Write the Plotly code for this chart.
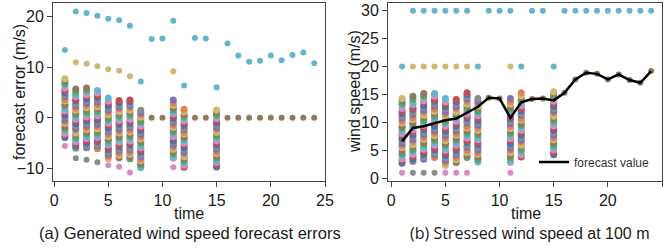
import plotly.graph_objects as go

# ---------------- data ----------------
PALETTE = ['#4C72B0', '#DD8452', '#55A868', '#C44E52', '#8172B3',
           '#937860', '#DA8BC3', '#8C8C8C', '#CCB974', '#64B5CD']

time = list(range(1, 25))
forecast = [6.6, 9.0, 9.3, 9.8, 10.4, 10.7, 11.8, 12.8, 14.4, 14.3, 10.8, 13.6,
            14.2, 14.3, 13.95, 15.3, 17.7, 18.9, 18.7, 17.7, 18.6, 17.6, 17.1, 19.2]

# stressed wind speed samples (m/s) at the times that carry a spread of scenarios
stripe_t1 = [2.7, 3.2, 3.5, 4.1, 4.4, 4.9, 5.5, 5.8, 6.2, 6.8, 7.1, 7.7, 8.0, 8.4, 9.0,
             9.3, 9.9, 10.2, 10.8, 11.1, 11.6, 12.0, 12.5, 13.1, 13.4, 13.9, 14.3]
stripe_t2 = [3.0, 3.4, 3.9, 4.3, 4.8, 5.1, 5.7, 6.0, 6.6, 6.9, 7.4, 7.8, 8.3, 8.7, 9.1,
             9.6, 10.0, 10.5, 10.9, 11.4, 11.8, 12.3, 12.6, 13.2, 13.5, 14.1, 14.7]
stripe_t3 = [3.4, 3.8, 4.3, 4.7, 5.2, 5.5, 6.1, 6.4, 7.0, 7.3, 7.8, 8.2, 8.7, 9.1, 9.5,
             10.0, 10.4, 10.9, 11.3, 11.8, 12.2, 12.7, 13.0, 13.6, 13.9, 14.5, 14.8, 15.2]
stripe_t4 = [3.7, 4.2, 4.5, 5.1, 5.4, 5.9, 6.3, 6.8, 7.2, 7.6, 8.1, 8.5, 9.0, 9.3, 9.9,
             10.2, 10.7, 11.1, 11.6, 12.0, 12.4, 12.9, 13.3, 13.8, 14.1, 14.7, 15.2]
stripe_t5 = [2.3, 2.8, 3.2, 3.6, 4.1, 4.5, 5.0, 5.3, 5.9, 6.2, 6.7, 7.1, 7.6, 8.0, 8.4,
             8.9, 9.3, 9.8, 10.1, 10.7, 11.0, 11.5, 11.9, 12.4, 12.8, 13.3, 13.7, 14.3]
stripe_t6 = [2.8, 3.3, 3.7, 4.2, 4.5, 5.0, 5.4, 5.9, 6.3, 6.8, 7.1, 7.7, 8.0, 8.5, 8.9,
             9.4, 9.8, 10.2, 10.7, 11.1, 11.6, 11.9, 12.5, 12.8, 13.3, 13.7, 14.1]
stripe_t7 = [3.7, 4.1, 4.6, 5.0, 5.5, 5.8, 6.4, 6.7, 7.2, 7.6, 8.1, 8.5, 9.0, 9.3, 9.9,
             10.2, 10.7, 11.1, 11.5, 12.0, 12.4, 12.9, 13.3, 13.8, 14.2, 14.6, 15.0, 15.3]
stripe_t8 = [2.9, 3.4, 3.8, 4.3, 4.6, 5.1, 5.5, 6.0, 6.4, 6.9, 7.2, 7.8, 8.1, 8.6, 9.0,
             9.5, 9.9, 10.3, 10.8, 11.2, 11.7, 12.0, 12.6, 12.9, 13.4, 13.8, 14.3]
stripe_t11 = [2.8, 3.2, 3.7, 4.1, 4.6, 5.0, 5.4, 5.9, 6.2, 6.8, 7.1, 7.6, 8.0, 8.5, 8.9,
              9.3, 9.8, 10.2, 10.7, 11.0, 11.6, 11.9, 12.4, 12.8, 13.3, 13.7, 14.3]
stripe_t12 = [3.8, 4.2, 4.7, 5.1, 5.6, 5.9, 6.5, 6.8, 7.3, 7.7, 8.2, 8.6, 9.0, 9.5, 9.9,
              10.4, 10.7, 11.3, 11.6, 12.1, 12.5, 13.0, 13.4, 13.9, 14.2, 14.8, 15.3]
stripe_t15 = [4.2, 4.6, 5.1, 5.5, 6.0, 6.3, 6.9, 7.2, 7.7, 8.1, 8.6, 9.0, 9.4, 9.9, 10.3,
              10.8, 11.1, 11.7, 12.0, 12.5, 12.9, 13.4, 13.8, 14.3, 14.6, 15.1, 15.5]
stripe_times = [1, 2, 3, 4, 5, 6, 7, 8, 11, 12, 15]
stripes = [stripe_t1, stripe_t2, stripe_t3, stripe_t4, stripe_t5, stripe_t6,
           stripe_t7, stripe_t8, stripe_t11, stripe_t12, stripe_t15]

# extreme stress scenarios (stressed wind speed, m/s)
upper_speed = [20, 30, 30, 30, 30, 30, 30, 20, 30, 30, 30, 20,
               30, 30, 20, 30, 30, 30, 30, 30, 30, 30, 30, 30]
mid_times = [2, 3, 4, 5, 6, 7, 11]
mid_speed = [20, 20, 20, 20, 20, 20, 20]
gray_times = [2, 3, 4]
gray_speed = [1, 1, 1]
pink_times = [1, 5, 6, 7, 11]
pink_speed = [1, 1, 1, 1, 1]
calm_times = [9, 10, 13, 14, 16, 17, 18, 19, 20, 21, 22, 23, 24]

# ---------------- figure ----------------
W, H = 668, 251
FONT = "Liberation Sans"
TXT = "#1a1a1a"
AX = "#444444"
MS = 6


def fx(px):
    return px / W


def fy(py):
    return 1 - py / H


fig = go.Figure()


def err(t, v):
    return v - forecast[t - 1]


for panel, (xa, ya) in enumerate([("x", "y"), ("x2", "y2")]):
    conv = (lambda t, v: err(t, v)) if panel == 0 else (lambda t, v: v)
    sx, sy, sc = [], [], []
    for i, (t, vals) in enumerate(zip(stripe_times, stripes)):
        for k, v in enumerate(vals):
            sx.append(t)
            sy.append(conv(t, v))
            sc.append(PALETTE[(k * 3 + i * 7) % 10])
    fig.add_trace(go.Scatter(x=sx, y=sy, mode="markers", xaxis=xa, yaxis=ya,
                             marker=dict(size=MS + 1, color=sc, line=dict(width=0)),
                             showlegend=False, hoverinfo="skip"))
    groups = [
        (calm_times, [forecast[t - 1] for t in calm_times], PALETTE[5]),
        (time, upper_speed, PALETTE[9]),
        (mid_times, mid_speed, PALETTE[8]),
        (gray_times, gray_speed, PALETTE[7]),
        (pink_times, pink_speed, PALETTE[6]),
    ]
    for tt, vv, col in groups:
        fig.add_trace(go.Scatter(x=tt, y=[conv(t, v) for t, v in zip(tt, vv)],
                                 mode="markers", xaxis=xa, yaxis=ya,
                                 marker=dict(size=MS, color=col, line=dict(width=0)),
                                 showlegend=False, hoverinfo="skip"))

fig.add_trace(go.Scatter(x=time, y=forecast, mode="lines", xaxis="x2", yaxis="y2",
                         line=dict(color="black", width=2.5),
                         name="forecast value", showlegend=True))

axis_common = dict(showgrid=False, zeroline=False, showline=True, mirror=True,
                   linecolor=AX, linewidth=1, ticks="outside", ticklen=5,
                   tickcolor=AX, tickwidth=1.2, automargin=False,
                   tickfont=dict(family=FONT, size=16, color=TXT))

y_top, y_bot = 3, 181
fig.update_layout(
    width=W, height=H, margin=dict(l=0, r=0, t=0, b=0, autoexpand=False),
    paper_bgcolor="white", plot_bgcolor="white",
    xaxis=dict(domain=[fx(53), fx(325)], range=[-0.1, 25], tickvals=[0, 5, 10, 15, 20, 25],
               anchor="y", **axis_common),
    yaxis=dict(domain=[fy(y_bot), fy(y_top)], range=[-12.5, 22.7], tickvals=[-10, 0, 10, 20],
               anchor="x", **axis_common),
    xaxis2=dict(domain=[fx(388), fx(662)], range=[-0.3, 25], tickvals=[0, 5, 10, 15, 20, 25],
                anchor="y2", **axis_common),
    yaxis2=dict(domain=[fy(y_bot), fy(y_top)], range=[-0.5, 31.4],
                tickvals=[0, 5, 10, 15, 20, 25, 30], anchor="x2", **axis_common),
    legend=dict(x=fx(534), y=fy(162), xanchor="left", yanchor="middle",
                bgcolor="rgba(0,0,0,0)", borderwidth=0,
                font=dict(family=FONT, size=12, color="#333333"),
                itemwidth=30, tracegroupgap=0),
    showlegend=True,
)

ann = [
    dict(text="forecast error (m/s)", x=fx(19), y=fy(92), textangle=-90, size=16),
    dict(text="wind speed (m/s)", x=fx(354), y=fy(92), textangle=-90, size=16),
    dict(text="time", x=fx(189), y=fy(213), textangle=0, size=16),
    dict(text="time", x=fx(526), y=fy(213), textangle=0, size=16),
    dict(text="(a) Generated wind speed forecast errors", x=fx(190), y=fy(233),
         textangle=0, size=16.5),
    dict(text='<span style="font-family:\'Open Sans\'">(b) Stressed</span> wind speed at 100 m',
         x=fx(530), y=fy(233), textangle=0, size=16),
]
for a in ann:
    fig.add_annotation(text=a["text"], x=a["x"], y=a["y"], xref="paper", yref="paper",
                       xanchor="center", yanchor="middle", textangle=a["textangle"],
                       showarrow=False, font=dict(family=FONT, size=a["size"], color=TXT))

fig.write_html("out.html", config={"displayModeBar": False},
               post_script="document.body.style.margin='0';document.body.style.overflow='hidden';")
